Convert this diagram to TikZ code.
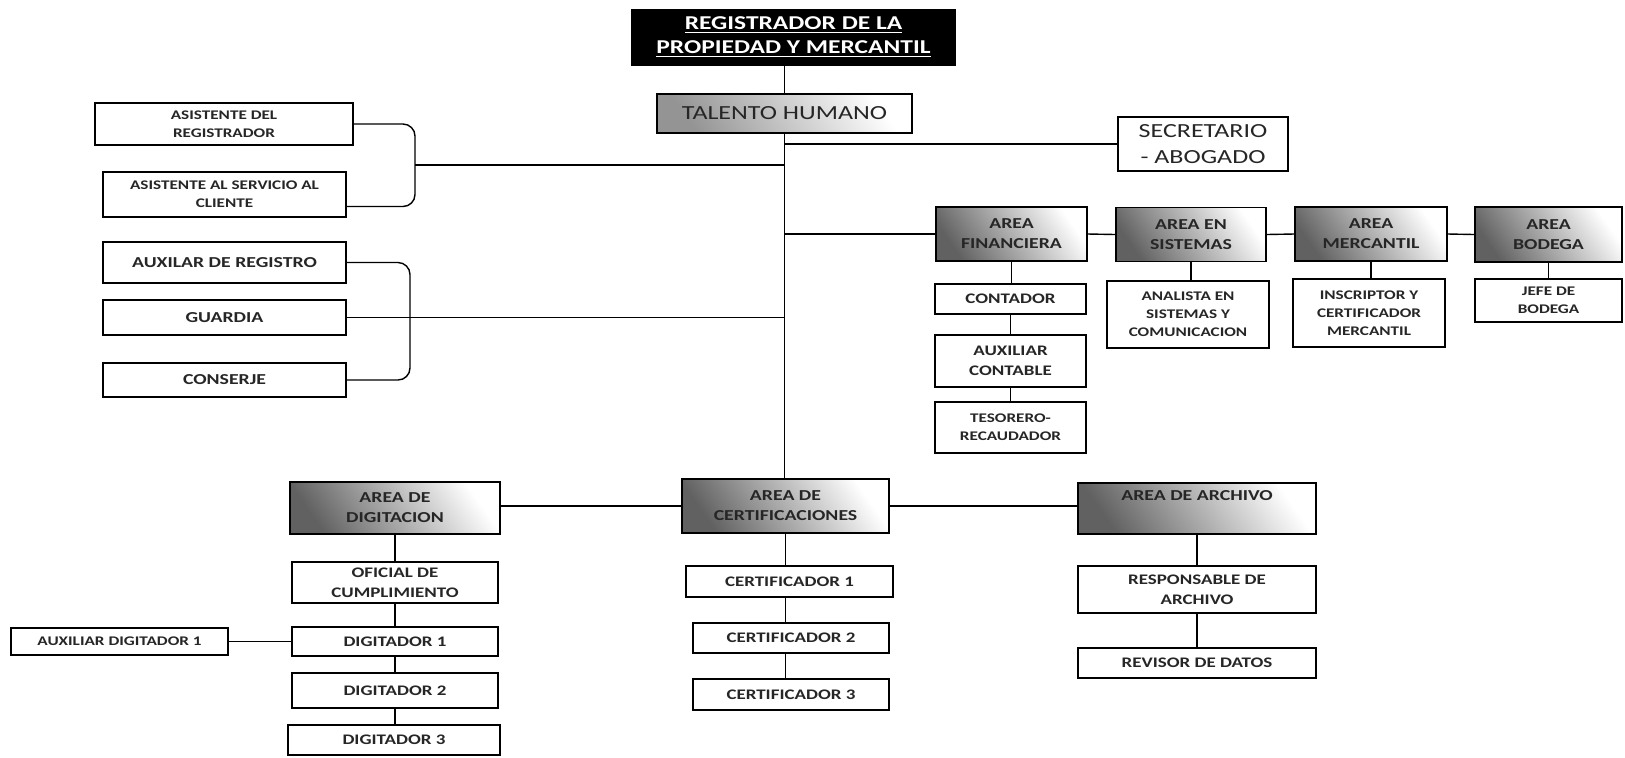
\documentclass[tikz,border=0pt]{standalone}
\usepackage{fontspec}
\setmainfont{Carlito}[FakeStretch=1.3]
\usetikzlibrary{positioning,calc}
\tikzset{box/.style={draw,line width=0.8pt,fill=white,align=center,inner sep=1pt,text=black!85}}
\tikzset{areabox/.style={box,left color=black!62,right color=white,shading angle=125}}
\tikzset{thbox/.style={box,left color=black!42,right color=white,shading angle=125}}
\tikzset{titlebox/.style={draw,line width=0.8pt,fill=black,text=white,align=center,inner sep=1pt}}
\tikzset{conn/.style={line width=0.7pt}}
\tikzset{ttl/.style={font=\fontsize{9.8}{12}\selectfont\bfseries}}
\tikzset{big/.style={font=\fontsize{10}{13}\selectfont}}
\tikzset{hd/.style={font=\fontsize{7.6}{10}\selectfont\bfseries}}
\tikzset{sub/.style={font=\fontsize{7.3}{10}\selectfont\bfseries}}
\tikzset{sm/.style={font=\fontsize{6.6}{9}\selectfont\bfseries}}

\begin{document}
\begin{tikzpicture}[x=0.5pt,y=-0.5pt]
  \useasboundingbox (0,0) rectangle (1625,757);
  % direccion
  \node[titlebox,ttl,minimum width=161.5pt,minimum height=27.5pt] (reg) at (793.5,37.5)
    {\underline{REGISTRADOR DE LA}\\\underline{PROPIEDAD Y MERCANTIL}};
  \node[thbox,big,minimum width=127.5pt,minimum height=19.5pt] (th) at (784.5,113.5) {TALENTO HUMANO};
  \node[box,big,minimum width=85pt,minimum height=27pt] (sec) at (1203,144) {SECRETARIO\\- ABOGADO};
  % izquierda
  \node[box,sm,minimum width=129pt,minimum height=21pt] (ar) at (224,124) {ASISTENTE DEL\\REGISTRADOR};
  \node[box,sm,minimum width=121.5pt,minimum height=22.5pt] (as) at (224.5,194.5) {ASISTENTE AL SERVICIO AL\\CLIENTE};
  \node[box,hd,minimum width=121.5pt,minimum height=20.5pt] (aux) at (224.5,262.5) {AUXILAR DE REGISTRO};
  \node[box,hd,minimum width=121.5pt,minimum height=17.5pt] (gua) at (224.5,317.5) {GUARDIA};
  \node[box,hd,minimum width=121.5pt,minimum height=17pt] (con) at (224.5,380) {CONSERJE};
  \coordinate (b1) at (415,165);
  \coordinate (b2) at (410,320);
  % areas de arriba
  \node[areabox,hd,minimum width=75.5pt,minimum height=27pt] (fin) at (1011.5,234) {AREA\\FINANCIERA};
  \node[areabox,hd,minimum width=75pt,minimum height=27pt] (sis) at (1191,234.5) {AREA EN\\SISTEMAS};
  \node[areabox,hd,minimum width=76pt,minimum height=27pt] (mer) at (1371,234) {AREA\\MERCANTIL};
  \node[areabox,hd,minimum width=73.5pt,minimum height=27.5pt] (bod) at (1548.5,234.5) {AREA\\BODEGA};
  \node[box,sub,minimum width=75.5pt,minimum height=15pt] (cont) at (1010.5,299) {CONTADOR};
  \node[box,sub,minimum width=75.5pt,minimum height=26pt] (auxc) at (1010.5,361) {AUXILIAR\\CONTABLE};
  \node[box,sm,minimum width=75.5pt,minimum height=25.5pt] (tes) at (1010.5,427.5) {TESORERO-\\RECAUDADOR};
  \node[box,sm,minimum width=81pt,minimum height=33.5pt] (ana) at (1188,314.5) {ANALISTA EN\\SISTEMAS Y\\COMUNICACION};
  \node[box,sm,minimum width=76pt,minimum height=34pt] (ins) at (1369,313) {INSCRIPTOR Y\\CERTIFICADOR\\MERCANTIL};
  \node[box,sm,minimum width=73.5pt,minimum height=21.5pt] (jefe) at (1548.5,300.5) {JEFE DE\\BODEGA};
  % areas de abajo
  \node[areabox,hd,minimum width=105pt,minimum height=26pt] (dig) at (395,508) {AREA DE\\DIGITACION};
  \node[areabox,hd,minimum width=103.5pt,minimum height=27pt] (cer) at (785.5,506) {AREA DE\\CERTIFICACIONES};
  \node[areabox,hd,minimum width=119pt,minimum height=25.5pt] (arc) at (1197,508.5) {AREA DE ARCHIVO\\\strut};
  \node[box,sub,minimum width=103pt,minimum height=20.5pt] (ofi) at (395,582.5) {OFICIAL DE\\CUMPLIMIENTO};
  \node[box,sub,minimum width=103pt,minimum height=14.5pt] (d1) at (395,641.5) {DIGITADOR 1};
  \node[box,sub,minimum width=103pt,minimum height=17.5pt] (d2) at (395,690.5) {DIGITADOR 2};
  \node[box,sub,minimum width=106pt,minimum height=15pt] (d3) at (394,740) {DIGITADOR 3};
  \node[box,sm,minimum width=108.5pt,minimum height=13.5pt] (aux1) at (119.5,641.5) {AUXILIAR DIGITADOR 1};
  \node[box,sub,minimum width=103.5pt,minimum height=15.5pt] (c1) at (789.5,581.5) {CERTIFICADOR 1};
  \node[box,sub,minimum width=98pt,minimum height=15pt] (c2) at (791,638) {CERTIFICADOR 2};
  \node[box,sub,minimum width=98pt,minimum height=15.5pt] (c3) at (791,694.5) {CERTIFICADOR 3};
  \node[box,sub,minimum width=119pt,minimum height=23.5pt] (resp) at (1197,589.5) {RESPONSABLE DE\\ARCHIVO};
  \node[box,sub,minimum width=119pt,minimum height=15pt] (rev) at (1197,663) {REVISOR DE DATOS};
  % lineas
  \draw[conn] (th.north) -- (th.north |- reg.south);
  \draw[conn] (th.south) -- (th.south |- cer.north);
  \draw[conn] (sec.west) -- (sec.west -| th.south);
  \draw[conn,rounded corners=6pt] (ar.east) -| (b1) |- ([yshift=-6pt]as.east);
  \draw[conn] (b1) -- (b1 -| th.south);
  \draw[conn,rounded corners=6pt] (aux.east) -| (b2) |- (con.east);
  \draw[conn] (gua.east) -- (gua.east -| th.south);
  \draw[conn] (fin.west) -- (fin.west -| th.south);
  \draw[conn] (fin.east) -- (sis.west);
  \draw[conn] (sis.east) -- (mer.west);
  \draw[conn] (mer.east) -- (bod.west);
  \draw[conn] (fin.south) -- (fin.south |- cont.north);
  \draw[conn] (cont.south) -- (auxc.north);
  \draw[conn] (auxc.south) -- (tes.north);
  \draw[conn] (sis.south) -- (sis.south |- ana.north);
  \draw[conn] (mer.south) -- (mer.south |- ins.north);
  \draw[conn] (bod.south) -- (bod.south |- jefe.north);
  \draw[conn] (cer.west) -- (cer.west -| dig.east);
  \draw[conn] (cer.east) -- (cer.east -| arc.west);
  \draw[conn] (dig.south) -- (ofi.north);
  \draw[conn] (ofi.south) -- (d1.north);
  \draw[conn] (d1.south) -- (d2.north);
  \draw[conn] (d2.south) -- (d2.south |- d3.north);
  \draw[conn] (aux1.east) -- (d1.west);
  \draw[conn] (cer.south) -- (cer.south |- c1.north);
  \draw[conn] (cer.south |- c1.south) -- (cer.south |- c2.north);
  \draw[conn] (cer.south |- c2.south) -- (cer.south |- c3.north);
  \draw[conn] (arc.south) -- (resp.north);
  \draw[conn] (resp.south) -- (rev.north);
\end{tikzpicture}
\end{document}
